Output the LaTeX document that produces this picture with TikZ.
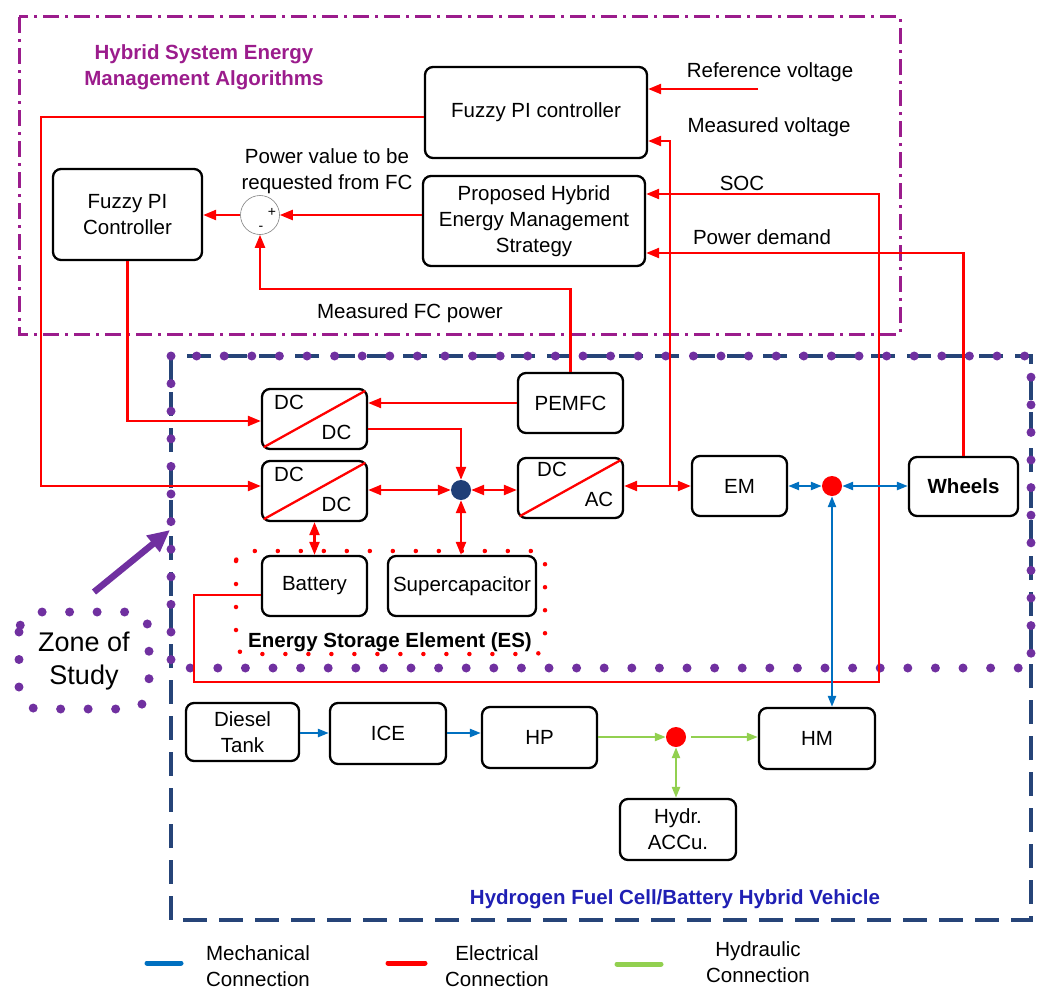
\documentclass[tikz,border=0pt]{standalone}
\usepackage{fontspec}
\setmainfont{Liberation Sans}
\usetikzlibrary{arrows.meta}
\definecolor{elred}{RGB}{255,0,0}
\definecolor{mechblue}{RGB}{0,112,192}
\definecolor{hydgreen}{RGB}{146,208,80}
\definecolor{algpurple}{RGB}{155,28,140}
\definecolor{zonepurple}{RGB}{112,48,160}
\definecolor{vehblue}{RGB}{38,68,120}
\definecolor{vehtext}{RGB}{32,32,180}
\definecolor{junblue}{RGB}{31,63,119}
\begin{document}
\begin{tikzpicture}[x=1pt,y=-1pt,
  font=\fontsize{20.5}{26}\selectfont,
  blk/.style={draw=black, line width=2.3pt, rounded corners=8pt, fill=white, inner sep=0pt, align=center},
  lbl/.style={inner sep=0pt, align=center},
  elec/.style={draw=elred, line width=2.3pt},
  earrow/.style={elec, -{Triangle[length=13pt,width=10pt]}},
  edarrow/.style={elec, {Triangle[length=13pt,width=10pt]}-{Triangle[length=13pt,width=10pt]}},
  marrow/.style={draw=mechblue, line width=2.3pt, -{Triangle[length=11pt,width=8pt]}},
  mdarrow/.style={draw=mechblue, line width=2.3pt, {Triangle[length=11pt,width=8pt]}-{Triangle[length=11pt,width=8pt]}},
  harrow/.style={draw=hydgreen, line width=2.3pt, -{Triangle[length=11pt,width=8pt]}},
  hdarrow/.style={draw=hydgreen, line width=2.3pt, {Triangle[length=11pt,width=8pt]}-{Triangle[length=11pt,width=8pt]}},
  diag/.style={draw=elred, line width=2.3pt},
  dotnode/.style={circle, inner sep=0pt, minimum size=20pt},
  legline/.style={line width=5pt, line cap=round}
]
\useasboundingbox (0,0) rectangle (1046,990);

% ---------- frames ----------
\draw[algpurple, line width=3pt, dash pattern=on 16pt off 6pt on 3pt off 6pt] (19,17) rectangle (900,334);
\draw[vehblue, line width=3.5pt, dash pattern=on 24pt off 12pt] (171,356) rectangle (1031,920);
\draw[zonepurple, line width=9pt, line cap=round, dash pattern=on 0pt off 27.6pt] (171,356) rectangle (1031,668);
\draw[zonepurple, line width=9pt, line cap=round, dash pattern=on 0pt off 27.5pt, rounded corners=20pt] (19,612) rectangle (149,709);
\draw[elred, line width=4.5pt, line cap=round, dash pattern=on 0pt off 23pt, rounded corners=10pt] (236,551) rectangle (545,654);

% ---------- labels ----------
\node[lbl, font=\fontsize{20.5}{26}\selectfont\bfseries, text=algpurple] (algtitle) at (204,67) {Hybrid System Energy\\Management Algorithms};
\node[lbl] (reflbl) at (770,72) {Reference voltage};
\node[lbl] (mvlbl) at (769,127) {Measured voltage};
\node[lbl] (soclbl) at (742,183) {SOC};
\node[lbl] (pdlbl) at (762,237) {Power demand};
\node[lbl] (pvlbl) at (327,171) {Power value to be\\requested from FC};
\node[lbl] (mfclbl) at (410,313) {Measured FC power};
\node[lbl, font=\fontsize{20.5}{26}\selectfont\bfseries] (eslbl) at (390,642) {Energy Storage Element (ES)};
\node[lbl, font=\fontsize{20.5}{26}\selectfont\bfseries, text=vehtext] (vehlbl) at (675,899) {Hydrogen Fuel Cell/Battery Hybrid Vehicle};
\node[lbl, font=\fontsize{27}{33}\selectfont] (zonelbl) at (84,661) {Zone of\\Study};

% ---------- blocks ----------
\node[blk, minimum width=222pt, minimum height=91pt] (fpi1) at (536,112.5) {Fuzzy PI controller};
\node[blk, minimum width=222pt, minimum height=90pt] (hems) at (534,221) {Proposed Hybrid\\Energy Management\\Strategy};
\node[blk, minimum width=149pt, minimum height=91pt] (fpi2) at (127.5,214.5) {Fuzzy PI\\Controller};
\node[blk, minimum width=105pt, minimum height=60pt] (dcdc1) at (314.5,419) {};
\node[blk, minimum width=105pt, minimum height=60pt] (dcdc2) at (314.5,491) {};
\node[blk, minimum width=105pt, minimum height=60pt] (pemfc) at (570.5,403) {PEMFC};
\node[blk, minimum width=105pt, minimum height=60pt] (dcac) at (570.5,488) {};
\node[blk, minimum width=95pt, minimum height=60pt] (em) at (739.5,486) {EM};
\node[blk, minimum width=109pt, minimum height=59pt, font=\fontsize{20.5}{26}\selectfont\bfseries] (wheels) at (963.5,486.5) {Wheels};
\node[blk, minimum width=105pt, minimum height=60pt] (battery) at (314.5,586) {Battery};
\node[blk, minimum width=148pt, minimum height=60pt] (supercap) at (462,586) {Supercapacitor};
\node[blk, minimum width=113pt, minimum height=58pt] (diesel) at (242.5,732) {Diesel\\Tank};
\node[blk, minimum width=116pt, minimum height=61pt] (ice) at (388,733.5) {ICE};
\node[blk, minimum width=115pt, minimum height=61pt] (hp) at (539.5,737.5) {HP};
\node[blk, minimum width=116pt, minimum height=61pt] (hm) at (817,738.5) {HM};
\node[blk, minimum width=116pt, minimum height=61pt] (accu) at (678,829.5) {Hydr.\\ACCu.};

% converter diagonals and labels
\draw[diag] ([shift={(3,-3)}]dcdc1.south west) -- ([shift={(-3,3)}]dcdc1.north east);
\draw[diag] ([shift={(3,-3)}]dcdc2.south west) -- ([shift={(-3,3)}]dcdc2.north east);
\draw[diag] ([shift={(3,-3)}]dcac.south west) -- ([shift={(-3,3)}]dcac.north east);
\node[lbl] (d1a) at ([shift={(-25.5,-17)}]dcdc1.center) {DC};
\node[lbl] (d1b) at ([shift={(22,13)}]dcdc1.center) {DC};
\node[lbl] (d2a) at ([shift={(-25.5,-17)}]dcdc2.center) {DC};
\node[lbl] (d2b) at ([shift={(22,13)}]dcdc2.center) {DC};
\node[lbl] (d3a) at ([shift={(-18.5,-19)}]dcac.center) {DC};
\node[lbl] (d3b) at ([shift={(28.5,11)}]dcac.center) {AC};

% junctions
\node[dotnode, fill=junblue] (jun) at (461,490) {};
\node[dotnode, fill=elred] (mdot) at (832,486) {};
\node[dotnode, fill=elred] (hdot) at (676,737) {};
\node[circle, draw=gray, line width=0.6pt, fill=white, minimum size=39pt, inner sep=0pt] (sum) at (260,215) {};
\node[lbl, font=\fontsize{14}{14}\selectfont] (plus) at (272,212) {+};
\node[lbl, font=\fontsize{14}{14}\selectfont] (minus) at (261,228) {-};

% free ends
\coordinate (refin) at (758,89);
\coordinate (mv) at (670,486);
\coordinate (za) at (94,592);
\coordinate (zb) at (170,530);

% ---------- electrical connections ----------
\draw[earrow] (refin) -- (fpi1.east |- refin);
\draw[earrow] (mv) |- (fpi1.east |- 0,141);
\draw[edarrow] (dcac.east |- em.west) -- (em.west);
\draw[earrow] (fpi1.west |- 0,117) -| (41,486) -- (dcdc2.west |- 0,486);
\draw[earrow] (fpi2.south) |- (dcdc1.west |- 0,421);
\draw[earrow] (hems.west |- sum.east) -- (sum.east);
\draw[earrow] (sum.west) -- (fpi2.east |- sum.west);
\draw[earrow] (pemfc.north) |- (sum.south |- 0,289) -- (sum.south);
\draw[earrow] (battery.west |- 0,595) -| (194,682) -| (879,194) -- (hems.east |- 0,194);
\draw[earrow] (wheels.north) |- (hems.east |- 0,253);
\draw[earrow] (pemfc.west) -- (dcdc1.east |- pemfc.west);
\draw[earrow] (dcdc1.east |- 0,429) -| (jun.north);
\draw[edarrow] (dcdc2.east |- jun.west) -- (jun.west);
\draw[edarrow] (jun.east) -- (dcac.west |- jun.east);
\draw[edarrow] (jun.south) -- (supercap.north -| jun.south);
\draw[edarrow] (dcdc2.south) -- (battery.north);

% ---------- mechanical connections ----------
\draw[mdarrow] (em.east) -- (mdot.west);
\draw[mdarrow] (mdot.east) -- (wheels.west |- mdot.east);
\draw[mdarrow] (mdot.south) -- (hm.north -| mdot.south);
\draw[marrow] (diesel.east |- 0,733) -- (ice.west |- 0,733);
\draw[marrow] (ice.east |- 0,733) -- (hp.west |- 0,733);

% ---------- hydraulic connections ----------
\draw[harrow] (hp.east |- hdot.west) -- (hdot.west);
\draw[harrow, shorten <=5pt] (hdot.east) -- (hm.west |- hdot.east);
\draw[hdarrow] (hdot.south) -- (accu.north -| hdot.south);

% zone arrow
\draw[zonepurple, line width=6.5pt, -{Triangle[length=22pt,width=20pt]}] (za) -- (zb);

% ---------- legend ----------
\coordinate (lb1) at (147,963); \coordinate (lb2) at (181,963);
\coordinate (lr1) at (388,963); \coordinate (lr2) at (425,963);
\coordinate (lg1) at (617,964); \coordinate (lg2) at (661,964);
\draw[legline, mechblue] (lb1) -- (lb2);
\draw[legline, elred] (lr1) -- (lr2);
\draw[legline, hydgreen] (lg1) -- (lg2);
\node[lbl] (legm) at (258,966) {Mechanical\\Connection};
\node[lbl] (lege) at (497,966) {Electrical\\Connection};
\node[lbl] (legh) at (758,962) {Hydraulic\\Connection};
\end{tikzpicture}
\end{document}
